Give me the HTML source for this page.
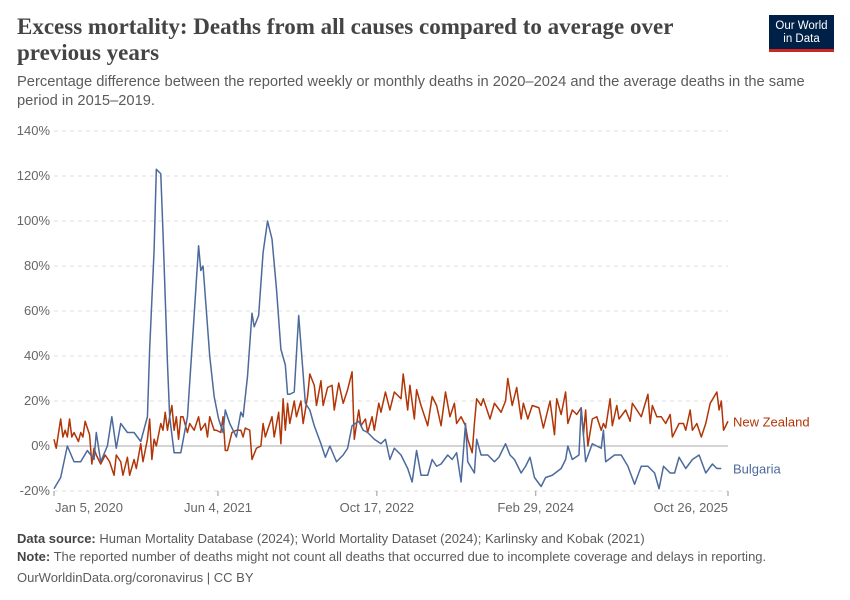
<!DOCTYPE html>
<html><head><meta charset="utf-8"><style>
body{margin:0;background:#fff;width:850px;height:600px;overflow:hidden;font-family:"Liberation Sans",sans-serif}
.t{position:absolute;left:17px;top:14px;font-family:"Liberation Serif",serif;font-weight:bold;font-size:23px;line-height:26px;color:#444;width:720px}
.s{position:absolute;left:17px;top:73px;font-size:14.7px;line-height:19px;color:#5b5b5b;width:815px}
.f{position:absolute;left:17px;font-size:13px;color:#5b5b5b}
.f b{color:#444}
</style></head><body>
<div class="t">Excess mortality: Deaths from all causes compared to average over previous years</div>
<div class="s">Percentage difference between the reported weekly or monthly deaths in 2020–2024 and the average deaths in the same period in 2015–2019.</div>
<div style="position:absolute;left:769px;top:15px;width:65px;height:37px;background:#002147;border-bottom:3px solid #ce261e;box-sizing:border-box;color:#fff;font-size:11.5px;line-height:13px;text-align:center;padding-top:5px">Our World<br>in Data</div>
<svg id="c" width="850" height="600" style="position:absolute;left:0;top:0"></svg>
<div class="f" style="top:531px"><b>Data source:</b> Human Mortality Database (2024); World Mortality Dataset (2024); Karlinsky and Kobak (2021)</div>
<div class="f" style="top:549px"><b>Note:</b> The reported number of deaths might not count all deaths that occurred due to incomplete coverage and delays in reporting.</div>
<div class="f" style="top:570px">OurWorldinData.org/coronavirus | CC BY</div>
<script>
const yTicks=[-20,0,20,40,60,80,100,120,140];
const xTickDays=[0,516,1016,1516,2121];
const xTickLabels=["Jan 5, 2020","Jun 4, 2021","Oct 17, 2022","Feb 29, 2024","Oct 26, 2025"];
const bgWeeks=[0,3,6,9,12,15,18,19,21,24,26,28,30,33,36,39,42,43,45,46,48,49,51,52,54,57,60,63,65,66,67,70,72,74,76,77,79,82,84,85,87,89,90,92,94,96,98,100,102,104,105,106,108,110,113,115,117,120,122,124,127,130,132,134,137,139,141,144,147,149,151,153,156,159,161,163,165,168,170,172,174,177,179,181,183,185,186,189,190,192,195,198,200,203,205,207,210,212,214,216,219,221,224,228,230,231,233,236,237,239,242,246,247,248,252,255,258,261,264,267,270,272,274,277,279,281,284,287,290,293,296,298,300];
const bgValues=[-19,-14,0,-7,-7,-2,-6,6,-7,0,13,-1,10,6,6,2,13,43,87,123,121,95,37,13,-3,-3,13,58,89,78,80,40,22,12,6,16,10,4,15,13,31,59,53,58,86,100,92,70,43,36,23,23,24,58,19,16,9,1,-5,0,-7,-4,-1,9,11,7,6,3,1,3,-6,-1,-4,-10,-16,-2,-13,-13,-6,-9,-8,-4,-6,-3,-16,10,-7,-12,3,-4,-4,-7,-5,1,-4,-6,-12,-9,-5,-14,-18,-14,-13,-10,-6,0,-6,-4,17,-7,1,-1,7,-7,-4,-4,-9,-17,-9,-9,-12,-19,-9,-12,-12,-5,-10,-6,-4,-12,-8,-10,-10];
const nzWeeks=[0,1,3,4,5,6,7,8,9,11,12,13,14,16,17,18,19,21,23,25,27,28,30,31,33,34,36,37,39,40,42,43,44,45,46,48,49,50,51,52,53,54,55,56,57,58,60,61,63,65,66,68,69,70,72,73,75,76,77,78,80,82,84,85,86,88,89,91,93,94,95,97,98,99,101,102,103,104,105,106,108,109,111,112,114,115,117,118,120,121,123,125,126,128,130,132,134,135,137,138,140,141,143,144,146,147,149,151,153,156,157,159,160,162,163,165,166,168,170,172,174,176,178,180,181,183,185,186,188,189,190,192,193,195,196,198,201,203,204,206,208,210,211,213,215,218,220,223,225,226,228,230,231,233,235,237,238,239,240,242,244,246,247,248,250,251,253,254,257,259,260,262,264,267,268,269,271,273,275,277,278,281,283,284,286,287,289,291,293,295,298,299,300,301,303];
const nzValues=[3,-1,12,4,7,4,12,4,6,2,6,4,11,5,-8,-1,-4,-8,-4,-7,-13,-4,-7,-13,-5,-13,-6,-10,1,-7,3,12,-6,3,0,10,7,15,7,13,18,7,13,3,13,13,6,10,7,13,7,10,4,13,7,7,6,13,-2,-2,6,7,7,4,8,7,-6,-1,0,10,4,10,13,4,15,1,21,7,19,10,20,13,20,10,22,32,27,18,29,18,26,27,16,28,19,25,33,3,16,9,12,6,13,7,19,15,24,16,24,21,32,16,27,12,25,18,15,9,22,18,9,24,13,19,10,13,9,3,-3,10,21,18,21,15,12,19,15,20,30,18,26,12,19,12,18,17,8,20,5,21,14,24,10,16,14,17,5,16,0,12,13,7,10,8,21,9,18,12,16,11,19,16,13,23,10,18,13,13,10,14,4,10,10,7,16,7,10,4,10,19,24,16,20,7,11];
const svg=document.getElementById('c'),NS='http://www.w3.org/2000/svg';
const X0=54,X1=728,D1=2121;
const xs=d=>X0+d*(X1-X0)/D1;
const ys=v=>446-v*2.25;
function mk(t,a){const e=document.createElementNS(NS,t);for(const k in a)e.setAttribute(k,a[k]);svg.appendChild(e);return e;}
yTicks.forEach(v=>{
  const g=mk('line',{x1:X0,x2:X1,y1:ys(v),y2:ys(v),stroke:v===0?'#aaa':'#ddd','stroke-width':1,'stroke-dasharray':v===0?'':'4,4'});
  
  
  const t=mk('text',{x:50,y:ys(v)+4,'text-anchor':'end','font-size':13,fill:'#666','font-family':'Liberation Sans'});
  t.textContent=v+'%';
  
  
});
xTickDays.forEach((d,i)=>{
  const x=xs(d);
  const l=mk('line',{x1:x,x2:x,y1:491,y2:496,stroke:'#999'});
  
  
  const anc=i===0?'start':(i===xTickDays.length-1?'end':'middle');
  const t=mk('text',{x:i===0?x+1:x,y:512,'text-anchor':anc,'font-size':13,fill:'#666','font-family':'Liberation Sans'});
  t.textContent=xTickLabels[i];
  
  
});
function series(w,v,col,name,label){
  const p=mk('polyline',{points:w.map((k,i)=>xs(k*7)+','+ys(v[i])).join(' '),fill:'none',stroke:col,'stroke-width':1.5,'stroke-linejoin':'round'});
  
  
  const last=v[v.length-1];
  const t=mk('text',{x:733,y:ys(last)+5,'font-size':13,fill:col,'font-family':'Liberation Sans'});
  t.textContent=label;
  
  
}
series(nzWeeks,nzValues,'#b13507','new-zealand-line','New Zealand');
series(bgWeeks,bgValues,'#4c6a9c','bulgaria-line','Bulgaria');
</script>
</body></html>
